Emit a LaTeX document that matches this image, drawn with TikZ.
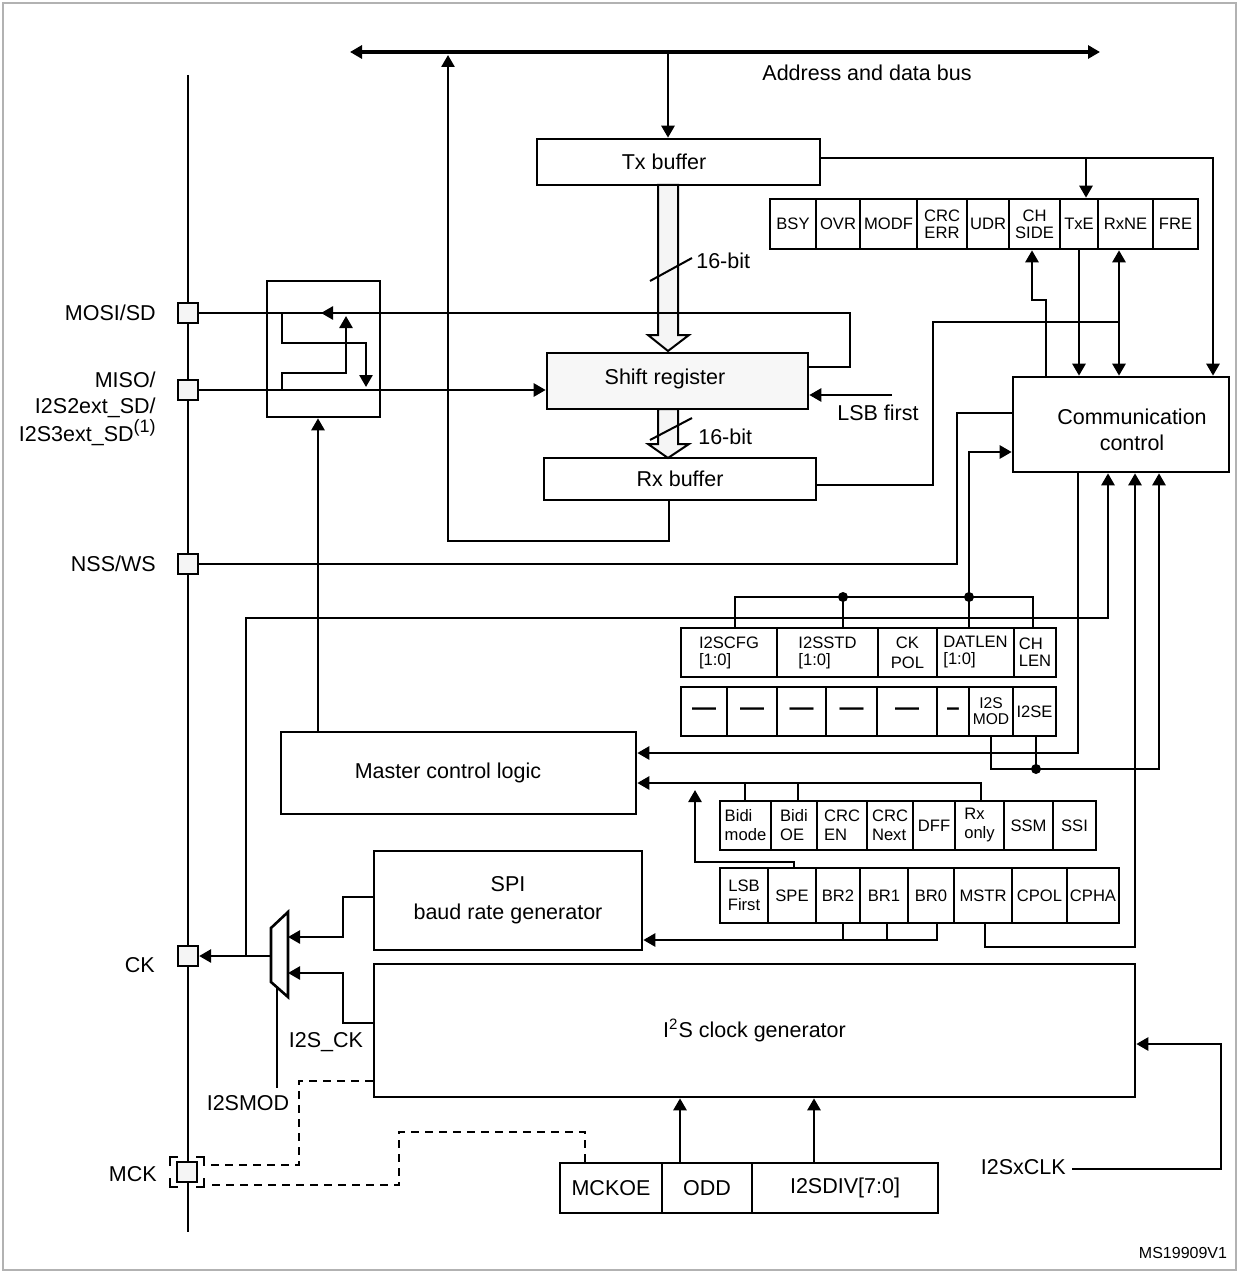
\documentclass[tikz,border=0pt]{standalone}
\usepackage{fontspec}
\setmainfont{Liberation Sans}
\usetikzlibrary{arrows.meta}
\newcommand\mainfs{\fontsize{10.75}{13}\selectfont}
\newcommand\regfs{\fontsize{8.3}{8.5}\selectfont}
\newcommand\dashfs{\fontsize{12}{12}\selectfont\bfseries}
\newcommand\regcell[7][]{%
  \pgfmathsetmacro\myCW{(#5-#3)*0.5}%
  \pgfmathsetmacro\myCH{(#6-#4)*0.5}%
  \node[box,minimum width=\myCW pt,minimum height=\myCH pt,#1] (#2) at ({(#3+#5)/2},{(#4+#6)/2}) {#7};}
\begin{document}
\begin{tikzpicture}[x={(0.5pt,0)},y={(0,-0.5pt)},line width=1.3pt,
  box/.style={draw, inner sep=0pt, align=center, font=\mainfs},
  reg/.style={box, font=\regfs},
  arr/.style={-{Triangle[length=6pt,width=6.5pt]}},
  darr/.style={{Triangle[length=6pt,width=6.5pt]}-{Triangle[length=6pt,width=6.5pt]}},
  pin/.style={draw, fill=gray!8, minimum size=10pt, inner sep=0pt, line width=1.1pt},
  lbl/.style={inner sep=0pt, font=\mainfs},
  dot/.style={circle, fill, inner sep=0pt, minimum size=5pt},
  dsh/.style={dash pattern=on 4pt off 3pt, line width=1pt},
  fat/.style={line width=1pt, fill=gray!8}]
\useasboundingbox (0,0) rectangle (1239,1273);
\draw[gray!60,line width=0.8pt] (3,3) rectangle (1236,1270);

% ---------- boxes ----------
\regcell[box]{txbuf}{537}{139}{820}{185}{}
\node[lbl] (txbufl) at (664,162) {Tx buffer};
\regcell[box,fill=gray!6]{shift}{547}{353}{808}{409}{}
\node[lbl] (shiftl) at (665,379) {Shift register};
\regcell[box]{rxbuf}{544}{458}{816}{500}{Rx buffer}
\regcell[box]{comm}{1013}{377}{1229}{472}{}
\node[lbl,align=center] (comml) at (1132,430) {Communication\\control};
\regcell[box]{muxbox}{267}{281}{380}{417}{}
\regcell[box]{mcl}{281}{732}{636}{814}{}
\node[lbl] (mcll) at (448,773) {Master control logic};
\regcell[box,font=\fontsize{10.75}{14}\selectfont]{spi}{374}{851}{642}{950}{SPI\\baud rate generator}
\regcell[box]{i2sclk}{374}{964}{1135}{1097}{I\textsuperscript{2}S clock generator}

% status register
\regcell[reg]{bsy}{770}{199}{816}{249}{BSY}
\regcell[reg]{ovr}{816}{199}{860}{249}{OVR}
\regcell[reg]{modf}{860}{199}{917}{249}{MODF}
\regcell[reg]{crcerr}{917}{199}{967}{249}{CRC\\ERR}
\regcell[reg]{udr}{967}{199}{1009}{249}{UDR}
\regcell[reg]{chside}{1009}{199}{1060}{249}{CH\\SIDE}
\regcell[reg]{txe}{1060}{199}{1098}{249}{TxE}
\regcell[reg]{rxne}{1098}{199}{1153}{249}{RxNE}
\regcell[reg]{fre}{1153}{199}{1198}{249}{FRE}

% I2S config register, row 1
\regcell[reg,align=left]{i2scfg}{681}{628}{777}{677}{I2SCFG\\{}[1:0]}
\regcell[reg,align=left]{i2sstd}{777}{628}{878}{677}{I2SSTD\\{}[1:0]}
\regcell[reg,font=\fontsize{8.3}{10}\selectfont]{ckpol}{878}{628}{937}{677}{CK\\POL}
\regcell[reg,align=left]{datlen}{937}{628}{1014}{677}{DATLEN\\{}[1:0]}
\regcell[reg,align=left]{chlen}{1014}{628}{1056}{677}{CH\\LEN}
% row 2
\regcell[reg,font=\dashfs]{r2a}{681}{687}{727}{736}{—}
\regcell[reg,font=\dashfs]{r2b}{727}{687}{777}{736}{—}
\regcell[reg,font=\dashfs]{r2c}{777}{687}{826}{736}{—}
\regcell[reg,font=\dashfs]{r2d}{826}{687}{877}{736}{—}
\regcell[reg,font=\dashfs]{r2e}{877}{687}{937}{736}{—}
\regcell[reg,font=\dashfs]{r2f}{937}{687}{969}{736}{–}
\regcell[reg,font=\fontsize{7.8}{8}\selectfont]{i2smod}{969}{687}{1013}{736}{I2S\\MOD}
\regcell[reg]{i2se}{1013}{687}{1056}{736}{I2SE}

% SPI control register, upper row
\regcell[reg,align=left,font=\fontsize{8.3}{9.5}\selectfont]{bidim}{720}{801}{771}{850}{Bidi\\mode}
\regcell[reg,align=left,font=\fontsize{8.3}{9.5}\selectfont]{bidioe}{771}{801}{817}{850}{Bidi\\OE}
\regcell[reg,align=left,font=\fontsize{8.3}{9.5}\selectfont]{crcen}{817}{801}{867}{850}{CRC\\EN}
\regcell[reg,align=left,font=\fontsize{8.3}{9.5}\selectfont]{crcnext}{867}{801}{913}{850}{CRC\\Next}
\regcell[reg]{dff}{913}{801}{955}{850}{DFF}
\regcell[reg,align=left,font=\fontsize{8.3}{9.5}\selectfont]{rxonly}{955}{801}{1004}{850}{Rx\\only}
\regcell[reg]{ssm}{1004}{801}{1053}{850}{SSM}
\regcell[reg]{ssi}{1053}{801}{1096}{850}{SSI}
% lower row
\regcell[reg,font=\fontsize{8.3}{9.5}\selectfont]{lsbf}{720}{868}{768}{923}{LSB\\First}
\regcell[reg]{spe}{768}{868}{816}{923}{SPE}
\regcell[reg]{br2}{816}{868}{860}{923}{BR2}
\regcell[reg]{br1}{860}{868}{908}{923}{BR1}
\regcell[reg]{br0}{908}{868}{954}{923}{BR0}
\regcell[reg]{mstr}{954}{868}{1012}{923}{MSTR}
\regcell[reg]{cpol}{1012}{868}{1067}{923}{CPOL}
\regcell[reg]{cpha}{1067}{868}{1119}{923}{CPHA}

% prescaler register
\regcell[box]{mckoe}{560}{1163}{662}{1213}{MCKOE}
\regcell[box]{odd}{662}{1163}{752}{1213}{ODD}
\regcell[box]{i2sdiv}{752}{1163}{938}{1213}{I2SDIV[7:0]}

% ---------- pins ----------
\draw (188,75) -- (188,1232);
\node[pin] (mosi) at (188,313) {};
\node[pin] (miso) at (188,390) {};
\node[pin] (nss) at (188,564) {};
\node[pin] (ck) at (188,956) {};
\node[pin] (mck) at (187,1172) {};
\node[lbl,anchor=east] (mosil) at (157,313) {MOSI/SD};
\node[lbl,anchor=east,align=right,font=\fontsize{10.75}{12.75}\selectfont] (misol) at (157,409) {MISO/\\I2S2ext\_SD/\\I2S3ext\_SD\raisebox{0.75ex}{\fontsize{9}{9}\selectfont(1)}};
\node[lbl,anchor=east] (nssl) at (157,564) {NSS/WS};
\node[lbl,anchor=east] (ckl) at (156,965) {CK};
\node[lbl,anchor=east] (mckl) at (158,1174) {MCK};
\draw[line width=1pt] (170,1166) -- (170,1157) -- (178,1157);
\draw[line width=1pt] (196,1157) -- (204,1157) -- (204,1166);
\draw[line width=1pt] (170,1178) -- (170,1187) -- (178,1187);
\draw[line width=1pt] (196,1187) -- (204,1187) -- (204,1178);

% ---------- bus ----------
\coordinate (busL) at (350,52);
\coordinate (busR) at (1100,52);
\draw[darr,line width=1.8pt] (busL) -- (busR);
\node[lbl] (busl) at (867,73) {Address and data bus};
\draw[arr] (668,52) -- (txbuf.north -| 668,0);

% Tx buffer to flags and control
\draw[arr] (txbuf.east |- 0,158) -- (1213,158) -- (comm.north -| 1213,0);
\draw[arr] (1086,158) -- (txe.north -| 1086,0);

% fat data arrows
\draw[fat] (658,185) -- (678,185) -- (678,335) -- (689,335) -- (668,351) -- (648,335) -- (658,335) -- cycle;
\draw[line width=1pt] (650,281) -- (692,258);
\node[lbl,anchor=west] (b16a) at (695,261) {16-bit};
\draw[fat] (658,409) -- (678,409) -- (678,444) -- (689,444) -- (668,458) -- (648,444) -- (658,444) -- cycle;
\draw[line width=1pt] (650,440) -- (692,418);
\node[lbl,anchor=west] (b16b) at (697,437) {16-bit};

% LSB first
\draw[arr] (892,395) -- (shift.east |- 0,395);
\node[lbl] (lsbl) at (878,413) {LSB first};

% MOSI / MISO
\draw (mosi.east) -- (850,313) -- (850,367) -- (shift.east |- 0,367);
\draw[arr] (338,313) -- (321,313);
\draw[arr] (miso.east) -- (shift.west |- 0,390);
\draw[arr] (282,313) |- (366,343) -- (366,387);
\draw[arr] (282,390) |- (346,373) -- (346,316);

% Rx buffer back to bus
\draw[arr] (rxbuf.south -| 669,0) -- (669,541) -- (448,541) -- (448,55);
% Rx buffer to RxNE
\draw (rxbuf.east |- 0,485) -- (933,485) -- (933,322) -- (1119,322);
\draw[darr] (rxne.south -| 1119,0) -- (comm.north -| 1119,0);
% CH SIDE
\draw[arr] (comm.north -| 1046,0) -- (1046,300) -- (1032,300) -- (chside.south -| 1032,0);
% TxE
\draw[arr] (txe.south -| 1079,0) -- (comm.north -| 1079,0);

% NSS
\draw (nss.east) -- (957,564) -- (957,413) -- (comm.west |- 0,413);
% I2S config bus
\draw[arr] (969,597) -- (969,452) -- (comm.west |- 0,452);
\draw (i2scfg.north -| 735,0) -- (735,597) -- (1033,597) -- (chlen.north -| 1033,0);
\draw (843,597) -- (i2sstd.north -| 843,0);
\draw (969,597) -- (datlen.north -| 969,0);
\node[dot] (d1) at (843,597) {};
\node[dot] (d2) at (969,597) {};

% CK to communication control
\draw[arr] (246,956) -- (246,618) -- (1108,618) -- (comm.south -| 1108,0);
% communication control to master control logic
\draw[arr] (comm.south -| 1078,0) -- (1078,753) -- (mcl.east |- 0,753);
% I2SMOD / I2SE
\draw[arr] (i2smod.south -| 991,0) -- (991,769) -- (1159,769) -- (comm.south -| 1159,0);
\draw (i2se.south -| 1036,0) -- (1036,769);
\node[dot] (d3) at (1036,769) {};
% MSTR
\draw[arr] (mstr.south -| 985,0) -- (985,947) -- (1135,947) -- (comm.south -| 1135,0);
% Bidi row to master control
\draw[arr] (rxonly.north -| 981,0) -- (981,783) -- (mcl.east |- 0,783);
\draw (bidim.north -| 745,0) -- (745,783);
\draw (bidioe.north -| 798,0) -- (798,783);
% SPE
\draw[arr] (spe.north -| 794,0) -- (794,862) -- (695,862) -- (695,790);
% baud rate bits
\draw[arr] (br0.south -| 937,0) -- (937,940) -- (spi.east |- 0,940);
\draw (br2.south -| 843,0) -- (843,940);
\draw (br1.south -| 887,0) -- (887,940);

% master control logic to mux box
\draw[arr] (mcl.north -| 318,0) -- (muxbox.south -| 318,0);

% clock multiplexer
\draw (271,928) -- (288,912) -- (288,997) -- (271,982) -- cycle;
\draw[arr] (spi.west |- 0,897) -- (343,897) -- (343,937) -- (288,937);
\draw[arr] (i2sclk.west |- 0,1023) -- (343,1023) -- (343,973) -- (288,973);
\draw[arr] (271,956) -- (ck.east);
\draw (277,987) -- (277,1088);
\node[lbl] (i2sckl) at (326,1042) {I2S\_CK};
\node[lbl] (i2smodl) at (248,1103) {I2SMOD};

% MCK dashed
\draw[dsh] (i2sclk.west |- 0,1081) -- (299,1081) -- (299,1165) -- (206,1165);
\draw[dsh] (mckoe.north -| 585,0) -- (585,1132) -- (399,1132) -- (399,1185) -- (206,1185);

% prescaler to clock generator
\draw[arr] (odd.north -| 680,0) -- (i2sclk.south -| 680,0);
\draw[arr] (i2sdiv.north -| 814,0) -- (i2sclk.south -| 814,0);
\node[lbl,anchor=east] (i2sxclk) at (1067,1167) {I2SxCLK};
\draw[arr] (1072,1169) -- (1221,1169) -- (1221,1044) -- (i2sclk.east |- 0,1044);

\node[inner sep=0pt,font=\fontsize{8}{8}\selectfont] (ms) at (1183,1253) {MS19909V1};
\end{tikzpicture}
\end{document}
